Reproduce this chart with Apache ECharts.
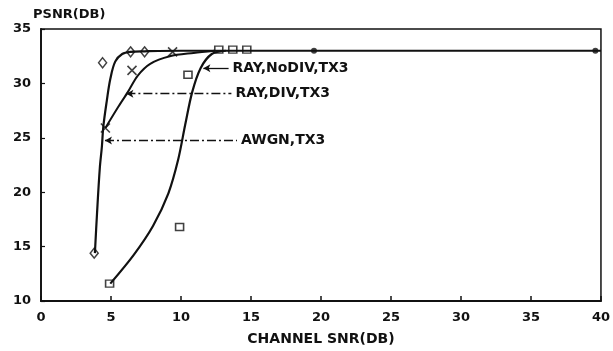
<!DOCTYPE html>
<html><head><meta charset="utf-8">
<script src="https://cdn.jsdelivr.net/npm/echarts@6/dist/echarts.min.js"></script>
<style>html,body{margin:0;padding:0;background:#fff}#c{width:613px;height:351px}</style>
</head><body><div id="c"></div>
<script>
// Curves (x = channel SNR dB, y = PSNR dB)
const awgnCurve = [[3.85,14.4],[4.0,18],[4.2,22.2],[4.35,24.2],[4.45,26],[4.7,28.4],[4.95,30.4],[5.3,32.0],[5.8,32.7],[6.4,32.9],[7.4,32.95],[10,33],[20,33],[40,33]];
const rayDivCurve = [[4.6,25.9],[5.5,27.8],[6.2,29.2],[6.9,30.7],[7.8,31.8],[9.2,32.5],[10.9,32.8],[12.4,33]];
const rayNoDivCurve = [[4.95,11.6],[6.6,14.2],[8.0,16.9],[9.1,19.9],[9.8,23.0],[10.3,26.2],[10.8,29.2],[11.4,31.4],[12.2,32.7],[13.2,33]];
// Measured points
const awgnPts = [[3.8,14.4],[4.4,31.9],[6.4,32.9],[7.4,32.9]];
const rayDivPts = [[4.6,25.9],[6.5,31.2],[9.4,32.9]];
const rayNoDivPts = [[4.9,11.6],[9.9,16.8],[10.5,30.8],[12.7,33.1],[13.7,33.1],[14.7,33.1]];
const commonPts = [[19.5,33],[39.6,33]];
// Tick labels
const xTicks = [0,5,10,15,20,25,30,35,40];
const yTicks = [10,15,20,25,30,35];
// Annotation labels: [text, arrow x, arrow y, leader end x]
const notes = [["RAY,NoDIV,TX3",11.6,31.4,13.4],["RAY,DIV,TX3",6.1,29.05,13.6],["AWGN,TX3",4.57,24.75,14.0]];

const F = 'DejaVu Sans';
const ink = '#111';
const xPath = 'path://M0,0L10,10M10,0L0,10';
function leader(i, dashed){
  const n = notes[i];
  return {
    silent:true, symbol:['arrow','none'], symbolSize:[6,7],
    lineStyle:{color:ink,width:1.3,type: dashed?[9,3,2,3]:'solid'},
    label:{show:true,position:'end',distance:4,formatter:n[0],color:ink,fontFamily:F,fontWeight:'bold',fontSize:14},
    data:[[{coord:[n[1],n[2]]},{coord:[n[3],n[2]]}]]
  };
}
const chart = echarts.init(document.getElementById('c'));
chart.setOption({
  animation:false,
  grid:{left:41,right:12,top:29,bottom:44,show:true,borderColor:ink,borderWidth:1.5},
  xAxis:{type:'value',min:0,max:40,interval:5,
    name:'CHANNEL SNR(DB)',nameLocation:'middle',nameGap:31,
    nameTextStyle:{color:ink,fontFamily:F,fontWeight:'bold',fontSize:14},
    axisLine:{lineStyle:{color:ink,width:1.8}},
    axisTick:{inside:true,length:5,lineStyle:{color:ink,width:1.5}},
    splitLine:{show:false},
    axisLabel:{margin:10,color:ink,fontFamily:F,fontWeight:'bold',fontSize:13,
      formatter:v=>xTicks.includes(v)?String(v):''}},
  yAxis:{type:'value',min:10,max:35,interval:5,
    name:'PSNR(DB)',nameLocation:'end',nameGap:8,
    nameTextStyle:{color:ink,fontFamily:F,fontWeight:'bold',fontSize:13,align:'left',padding:[0,0,0,-8]},
    axisLine:{show:true,lineStyle:{color:ink,width:1.8}},
    axisTick:{show:true,inside:true,length:4,lineStyle:{color:ink,width:1.2}},
    splitLine:{show:false},
    axisLabel:{margin:10,color:ink,fontFamily:F,fontWeight:'bold',fontSize:13,
      formatter:v=>yTicks.includes(v)?String(v):''}},
  series:[
    {type:'line',data:awgnCurve,smooth:0.35,showSymbol:false,lineStyle:{color:ink,width:2.2},markLine:leader(2,true)},
    {type:'line',data:rayDivCurve,smooth:0.3,showSymbol:false,lineStyle:{color:ink,width:2},markLine:leader(1,true)},
    {type:'line',data:rayNoDivCurve,smooth:0.3,showSymbol:false,lineStyle:{color:ink,width:2.2},markLine:leader(0,false)},
    {type:'scatter',data:awgnPts,symbol:'diamond',symbolSize:[8,10],itemStyle:{color:'#fff',borderColor:ink,borderWidth:1.5}},
    {type:'scatter',data:rayDivPts,symbol:xPath,symbolSize:9,itemStyle:{color:'none',borderColor:ink,borderWidth:1.6}},
    {type:'scatter',data:rayNoDivPts,symbol:'rect',symbolSize:[8,7],itemStyle:{color:'#fff',borderColor:ink,borderWidth:1.5}},
    {type:'scatter',data:commonPts,symbol:'circle',symbolSize:6,itemStyle:{color:ink}}
  ]
});
</script></body></html>
